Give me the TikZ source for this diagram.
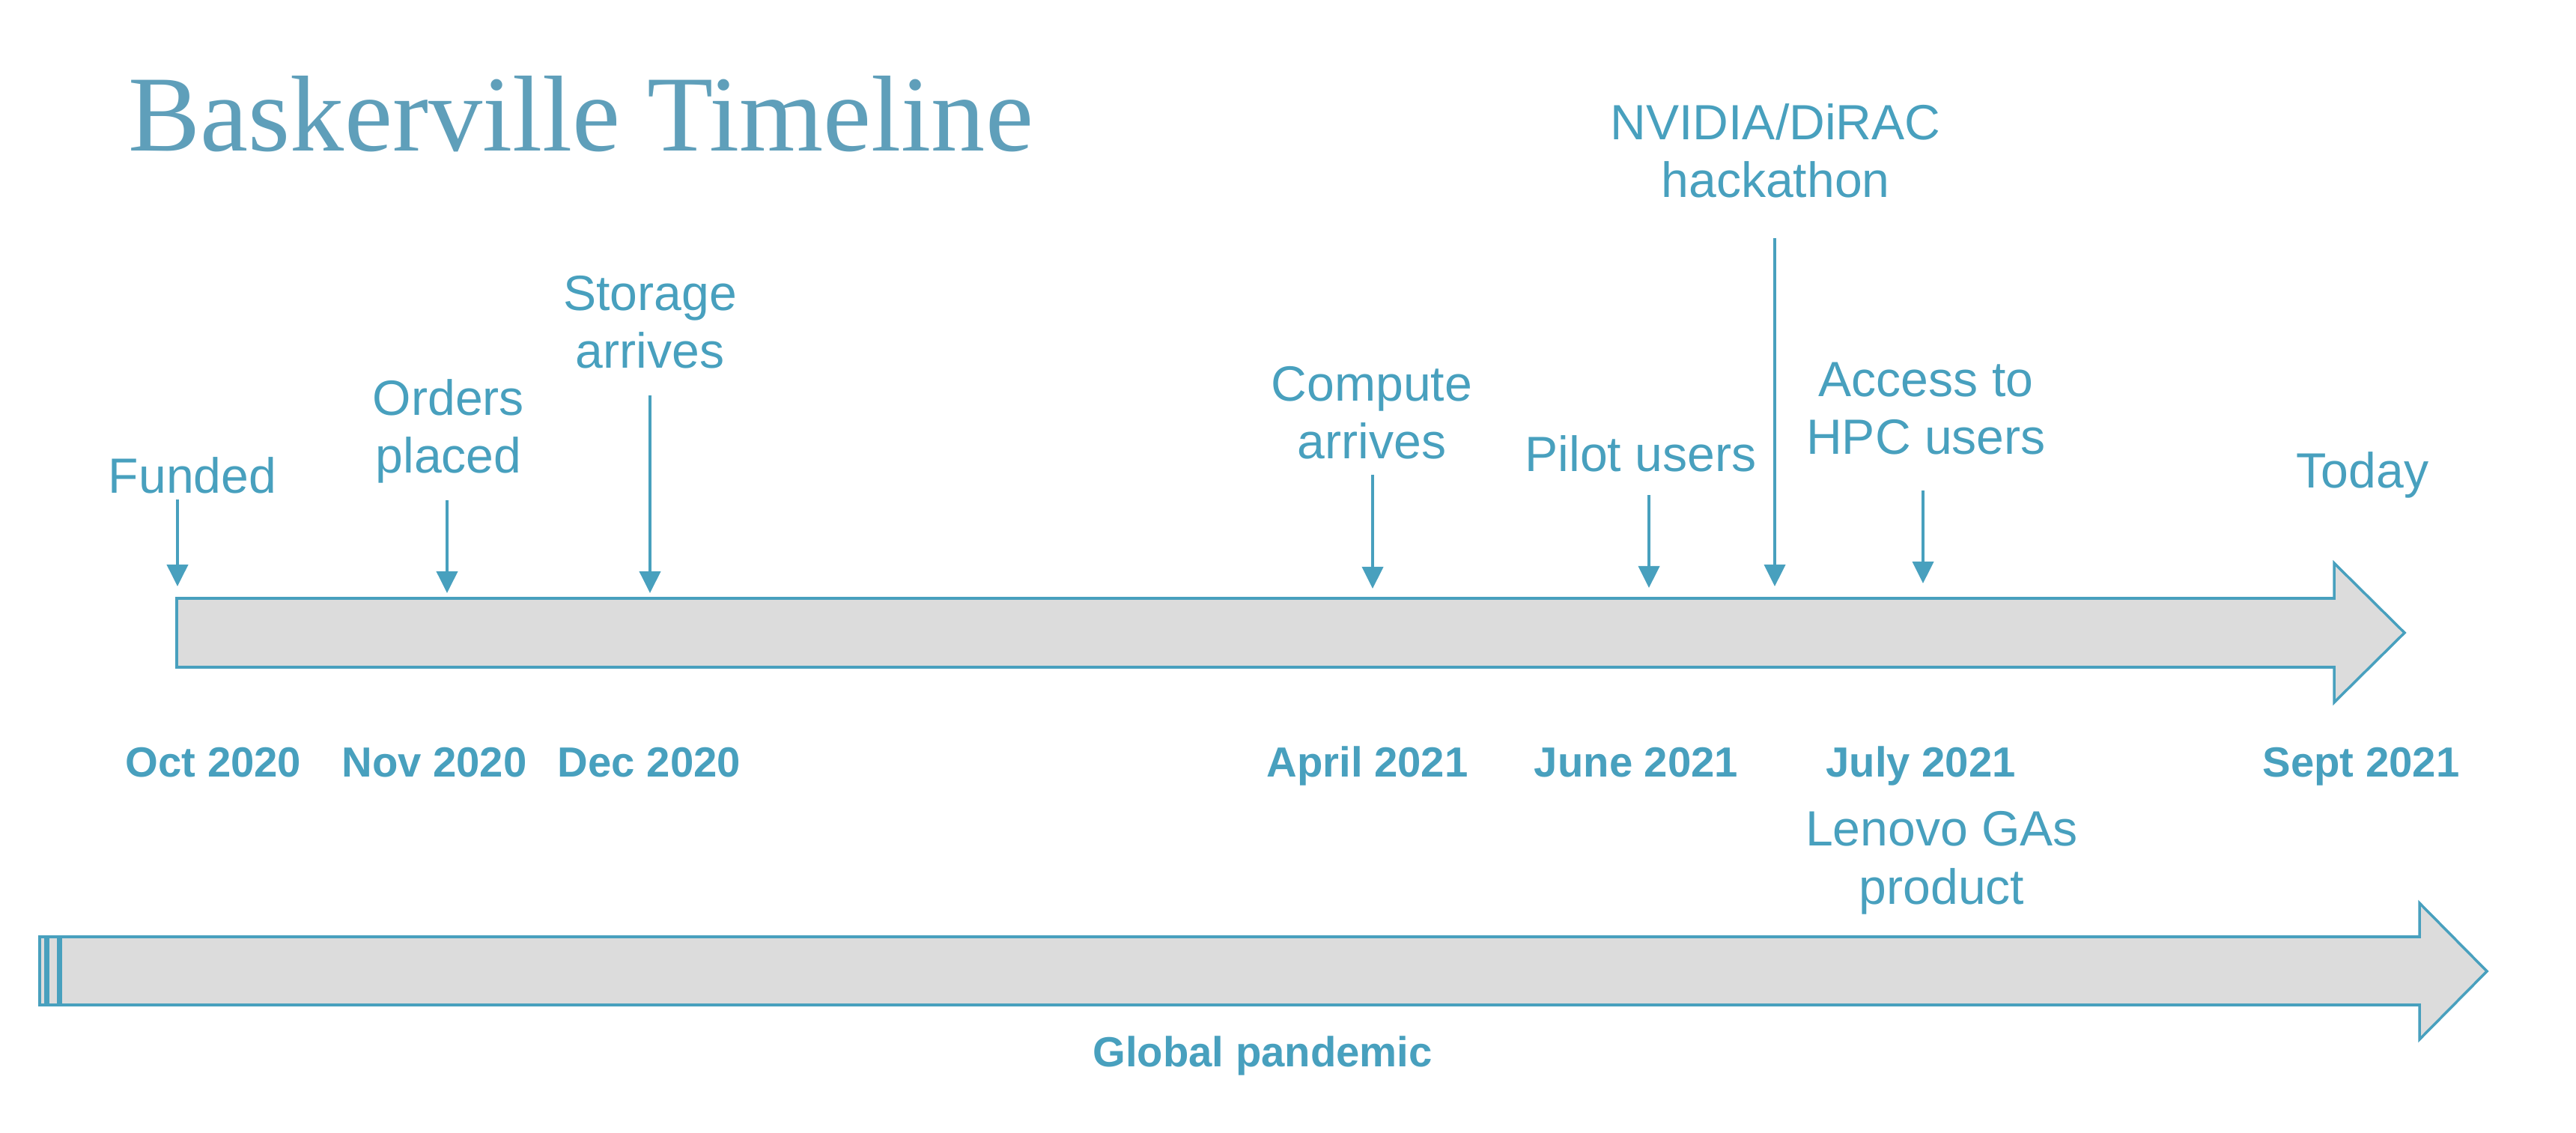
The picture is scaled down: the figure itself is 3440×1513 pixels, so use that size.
\documentclass[tikz,border=0pt]{standalone}
\usepackage{fontspec}
\setmainfont{Liberation Sans}
\newfontfamily\titlefont{Liberation Serif}
\usetikzlibrary{arrows.meta, math}
\definecolor{myblue}{RGB}{72,160,190}
\definecolor{mytitle}{RGB}{95,159,186}
\definecolor{mygrey}{RGB}{220,220,220}

\tikzset{
 event/.style={text=myblue, font=\fontsize{18.8}{21.9}\selectfont, align=center, anchor=base, inner sep=0pt},
 date/.style={text=myblue, font=\bfseries\fontsize{16}{19}\selectfont, anchor=base, inner sep=0pt},
 marker/.style={draw=myblue, line width=1.1pt, -{Triangle[width=0.28cm,length=0.29cm]}},
 band/.style={draw=myblue, fill=mygrey, line width=1pt, line join=miter},
}

\begin{document}
\begin{tikzpicture}[x=0.01cm, y=-0.01cm]
\tikzmath{
\ytop=799;
\ybot=891;
\ylow=1251;
\yhigh=1342;
\ydate=1037;
}
\useasboundingbox (0,0) rectangle (3440,1513);

 \node[anchor=base west, inner sep=0pt, text=mytitle, font=\titlefont\fontsize{41}{46}\selectfont] (title) at (171,202) {Baskerville Timeline};

 % project timeline
 \draw[band] (236,\ytop) -- (3117,\ytop) -- (3117,752) -- (3211,845) -- (3117,938) -- (3117,\ybot) -- (236,\ybot) -- cycle;

 % pandemic band
 \draw[band] (53,\ylow) rectangle (61,\yhigh);
 \draw[band] (64,\ylow) rectangle (78,\yhigh);
 \draw[band] (81,\ylow) -- (3231,\ylow) -- (3231,1206) -- (3321,1297) -- (3231,1388) -- (3231,\yhigh) -- (81,\yhigh) -- cycle;

 % events (base = last line)
 \node[event] (funded) at (257,659) {Funded};
 \node[event] (orders) at (599,632) {Orders\\placed};
 \node[event] (storage) at (868,492) {Storage\\arrives};
 \node[event] (compute) at (1832,613) {Compute\\arrives};
 \node[event] (pilot) at (2191,630) {Pilot users};
 \node[event] (hack) at (2371,264) {NVIDIA/DiRAC\\hackathon};
 \node[event] (access) at (2572,607) {Access to\\HPC users};
 \node[event] (today) at (3155,652) {Today};
 \node[event] (lenovo) at (2593,1207) {Lenovo GAs\\product};

 \coordinate (F0) at (237,667);  \coordinate (F1) at (237,783);
 \coordinate (O0) at (597,668);  \coordinate (O1) at (597,792);
 \coordinate (S0) at (868,528);  \coordinate (S1) at (868,792);
 \coordinate (C0) at (1833,634); \coordinate (C1) at (1833,786);
 \coordinate (P0) at (2202,661); \coordinate (P1) at (2202,785);
 \coordinate (H0) at (2370,318); \coordinate (H1) at (2370,783);
 \coordinate (A0) at (2568,655); \coordinate (A1) at (2568,779);

 \draw[marker] (F0) -- (F1);
 \draw[marker] (O0) -- (O1);
 \draw[marker] (S0) -- (S1);
 \draw[marker] (C0) -- (C1);
 \draw[marker] (P0) -- (P1);
 \draw[marker] (H0) -- (H1);
 \draw[marker] (A0) -- (A1);

 % dates
 \node[date] (oct) at (285,\ydate) {Oct 2020};
 \node[date] (nov) at (580,\ydate) {Nov 2020};
 \node[date] (dec) at (867,\ydate) {Dec 2020};
 \node[date] (apr) at (1826,\ydate) {April 2021};
 \node[date] (jun) at (2185,\ydate) {June 2021};
 \node[date] (jul) at (2565,\ydate) {July 2021};
 \node[date] (sep) at (3153,\ydate) {Sept 2021};

 \node[date] (pandemic) at (1686,1424) {Global pandemic};
\end{tikzpicture}
\end{document}
